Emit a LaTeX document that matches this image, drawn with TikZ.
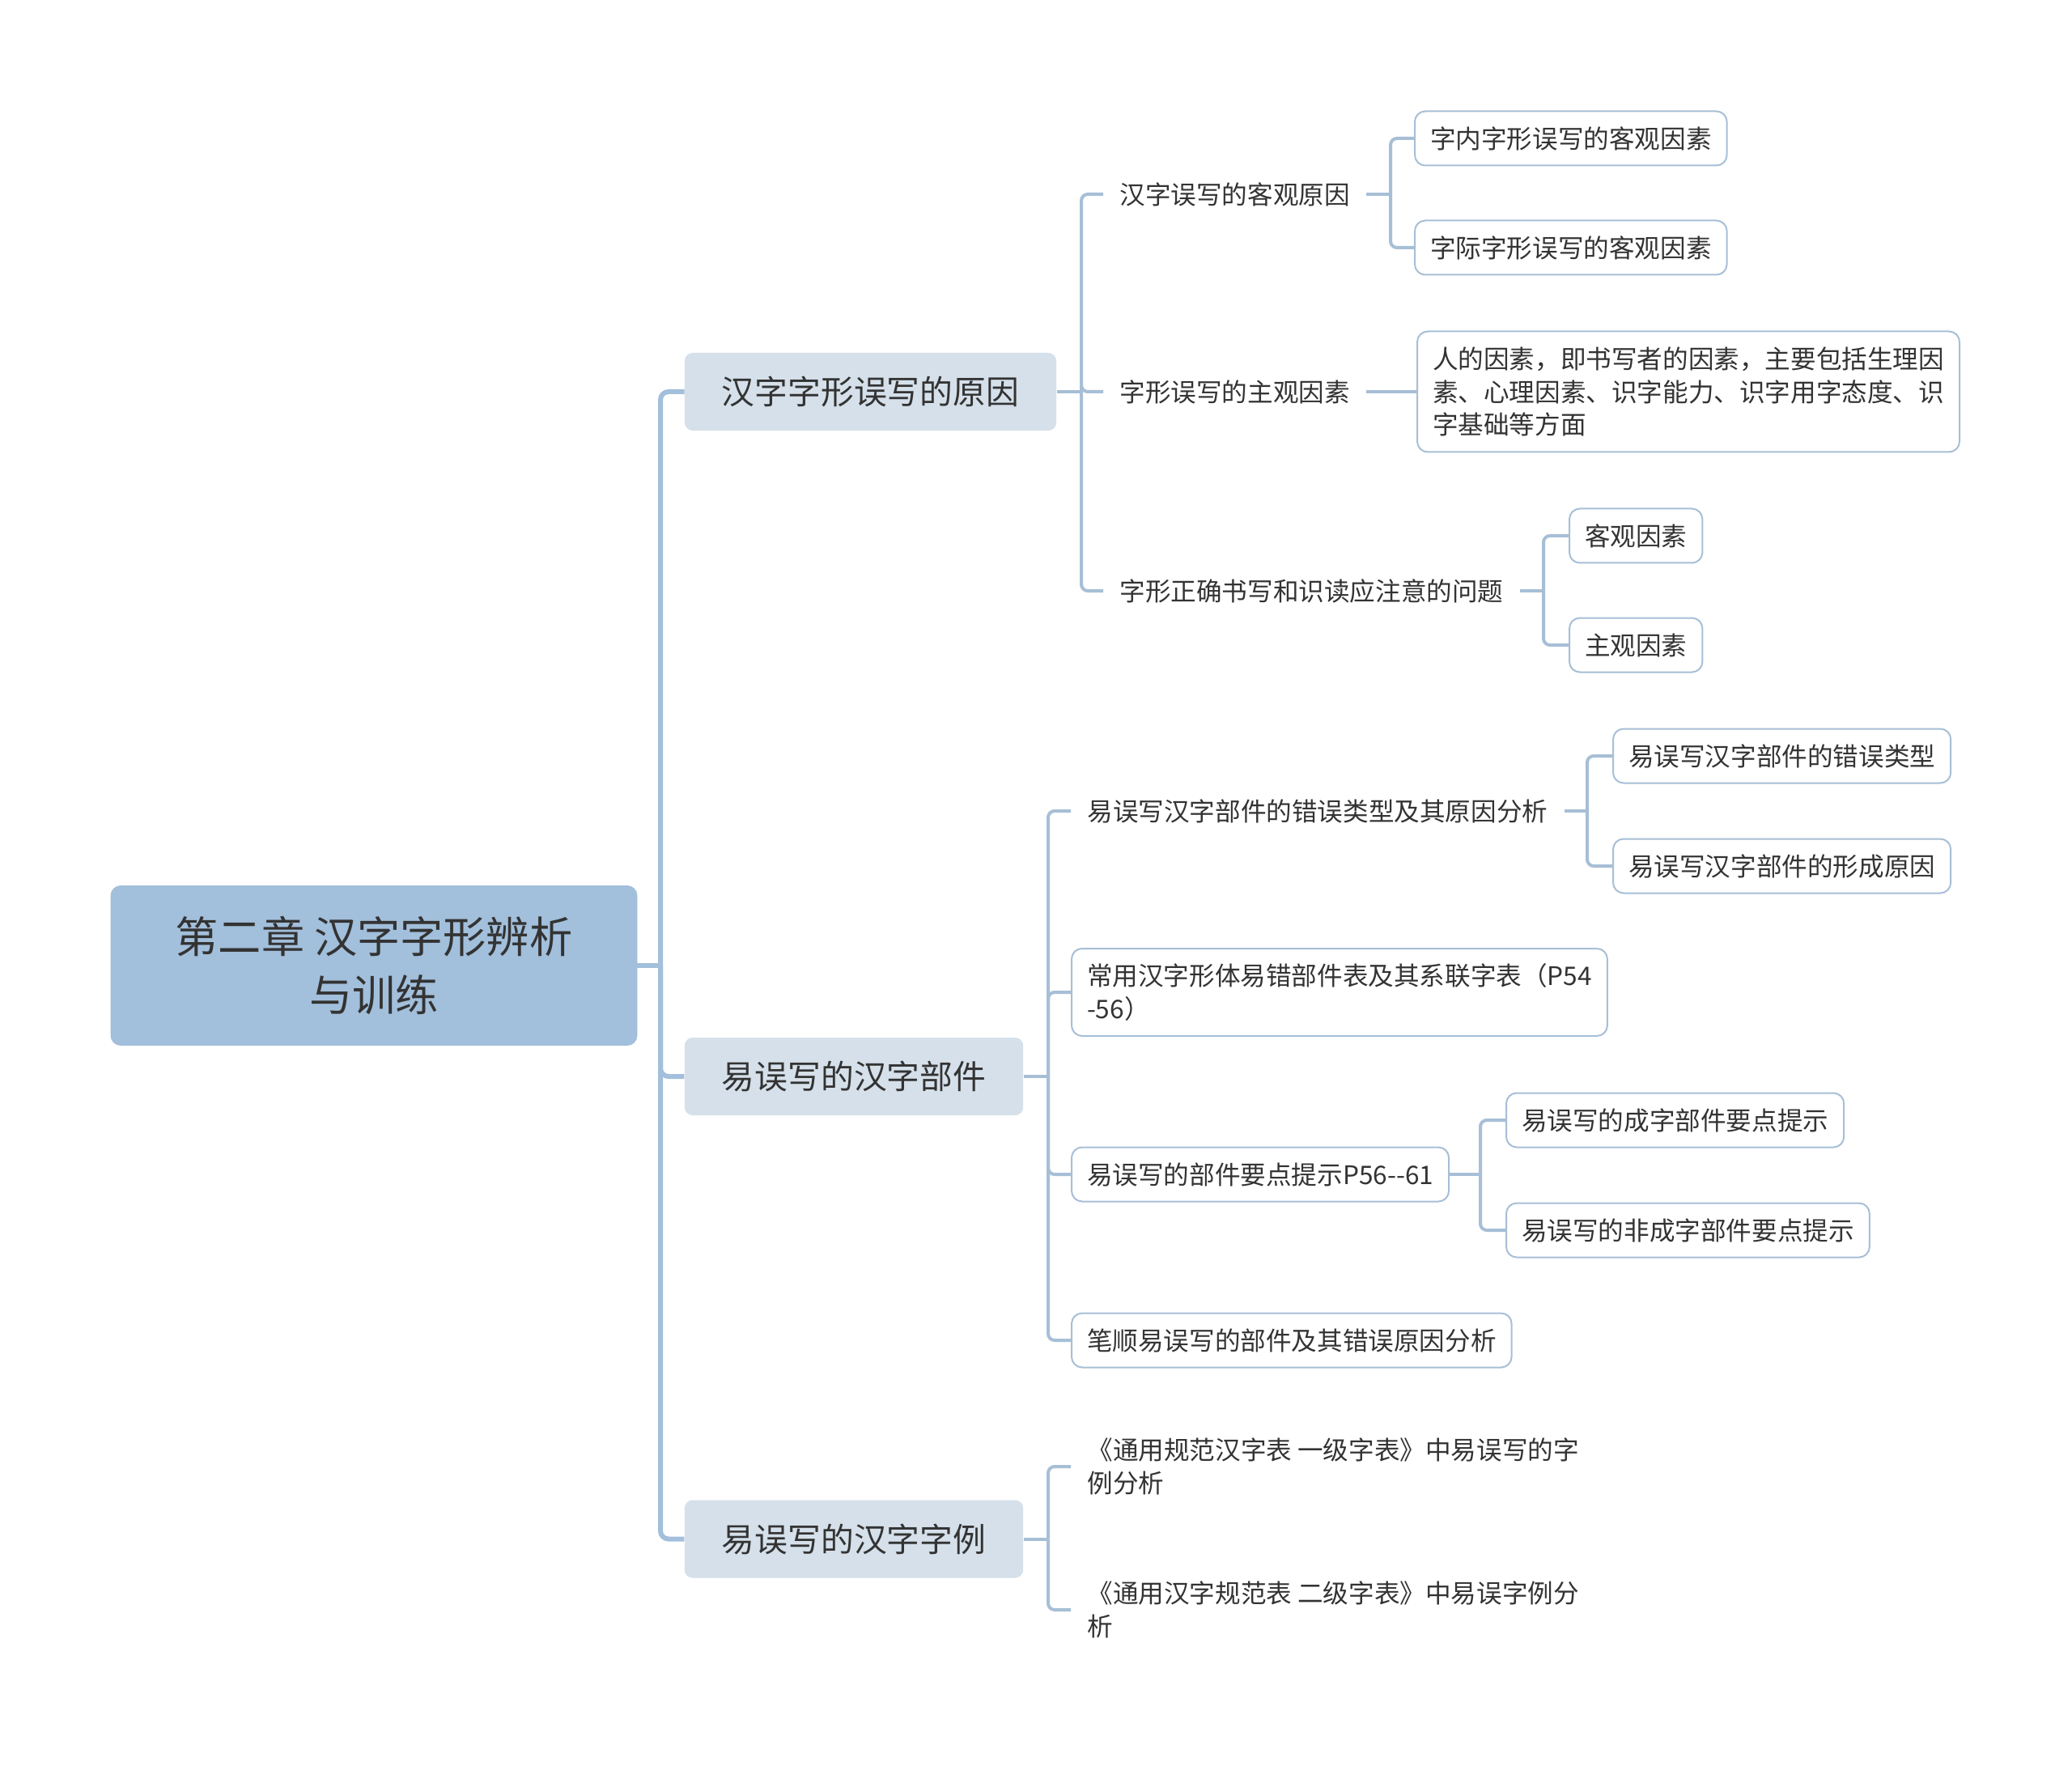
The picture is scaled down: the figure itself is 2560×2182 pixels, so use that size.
\documentclass[tikz,border=0pt]{standalone}
\usepackage{fontspec}
\newfontfamily\cjkfont{Noto Sans CJK SC}
\usepackage{tikz}
\usetikzlibrary{positioning}
\definecolor{rootfill}{HTML}{A2BFDB}
\definecolor{topicfill}{HTML}{D5E0EA}
\definecolor{linkcol}{HTML}{A7BFD6}
\definecolor{textcol}{HTML}{333333}

\begin{document}
\begin{tikzpicture}[x=0.5pt,y=-0.5pt,
	root node/.style={rectangle,rounded corners=6pt,fill=rootfill,draw=rootfill,text=textcol,minimum width=325pt,minimum height=98.5pt,align=center,font={\cjkfont\fontsize{26.6pt}{36pt}\selectfont}},
	topic node/.style={rectangle,rounded corners=5pt,fill=topicfill,text=textcol,minimum height=48pt,inner xsep=23pt,font={\cjkfont\fontsize{20.4pt}{26pt}\selectfont}},
	sub node/.style={rectangle,inner xsep=10pt,align=left,text=textcol,font={\cjkfont\fontsize{15.8pt}{20.4pt}\selectfont}},
	leaf node/.style={sub node,draw=linkcol,line width=1pt,fill=white,rounded corners=6.5pt,inner xsep=9.5pt,minimum height=33.5pt},
	trunk/.style={draw=rootfill,line width=3pt,rounded corners=5pt},
	branch/.style={draw=linkcol,line width=2pt,rounded corners=4pt}]

	\useasboundingbox[fill=white] (0,0) rectangle (2560,2182);

	% root and main topics
	\node[root node] (root) at (462,1193) {第二章 汉字字形辨析\\与训练};
	\node[topic node] (t1) at (1075.5,484) {汉字字形误写的原因};
	\node[topic node] (t2) at (1055,1330) {易误写的汉字部件};
	\node[topic node] (t3) at (1055,1901.5) {易误写的汉字字例};

	\coordinate (jr) at (816,1193);
	\coordinate (j1) at (1336,484);
	\coordinate (j2) at (1295,1330);
	\coordinate (j3) at (1295,1901.5);

	% first topic
	\node[sub node,anchor=west] (s11) at (1363,240) {汉字误写的客观原因};
	\node[sub node,anchor=west] (s12) at (1363,484) {字形误写的主观因素};
	\node[sub node,anchor=west] (s13) at (1363,730) {字形正确书写和识读应注意的问题};
	\node[leaf node,anchor=west] (l111) at (1747,171) {字内字形误写的客观因素};
	\node[leaf node,anchor=west] (l112) at (1747,306) {字际字形误写的客观因素};
	\node[leaf node,anchor=west,minimum height=74.5pt] (l121) at (1750,484) {人的因素，即书写者的因素，主要包括生理因\\素、心理因素、识字能力、识字用字态度、识\\字基础等方面};
	\node[leaf node,anchor=west] (l131) at (1938,662) {客观因素};
	\node[leaf node,anchor=west] (l132) at (1938,797) {主观因素};
	\coordinate (j11) at (1718,240);
	\coordinate (j13) at (1907,730);

	% second topic
	\node[sub node,anchor=west] (s21) at (1323,1002) {易误写汉字部件的错误类型及其原因分析};
	\node[leaf node,anchor=west,minimum height=54pt] (s22) at (1323,1226) {常用汉字形体易错部件表及其系联字表（P54\\-56）};
	\node[leaf node,anchor=west] (s23) at (1323,1451) {易误写的部件要点提示P56--61};
	\node[leaf node,anchor=west] (s24) at (1323,1656) {笔顺易误写的部件及其错误原因分析};
	\node[leaf node,anchor=west] (l211) at (1992,934) {易误写汉字部件的错误类型};
	\node[leaf node,anchor=west] (l212) at (1992,1070) {易误写汉字部件的形成原因};
	\node[leaf node,anchor=west] (l231) at (1860,1384) {易误写的成字部件要点提示};
	\node[leaf node,anchor=west] (l232) at (1860,1520) {易误写的非成字部件要点提示};
	\coordinate (j21) at (1961,1002);
	\coordinate (j23) at (1829,1451);

	% third topic
	\node[sub node,anchor=west] (s31) at (1323,1812) {《通用规范汉字表 一级字表》中易误写的字\\例分析};
	\node[sub node,anchor=west] (s32) at (1323,1989) {《通用汉字规范表 二级字表》中易误字例分\\析};

	% connectors
	\draw[trunk] (root.east) -- (jr);
	\foreach \t in {t1,t2,t3}
		\draw[trunk] (jr) |- (\t.west);

	\draw[branch] (t1.east) -- (j1);
	\foreach \s in {s11,s12,s13}
		\draw[branch] (j1) |- (\s.west);
	\draw[branch] (s11.east) -- (j11);
	\foreach \l in {l111,l112}
		\draw[branch] (j11) |- (\l.west);
	\draw[branch] (s12.east) -- (l121.west);
	\draw[branch] (s13.east) -- (j13);
	\foreach \l in {l131,l132}
		\draw[branch] (j13) |- (\l.west);

	\draw[branch] (t2.east) -- (j2);
	\foreach \s in {s21,s22,s23,s24}
		\draw[branch] (j2) |- (\s.west);
	\draw[branch] (s21.east) -- (j21);
	\foreach \l in {l211,l212}
		\draw[branch] (j21) |- (\l.west);
	\draw[branch] (s23.east) -- (j23);
	\foreach \l in {l231,l232}
		\draw[branch] (j23) |- (\l.west);

	\draw[branch] (t3.east) -- (j3);
	\foreach \s in {s31,s32}
		\draw[branch] (j3) |- (\s.west);
\end{tikzpicture}
\end{document}
